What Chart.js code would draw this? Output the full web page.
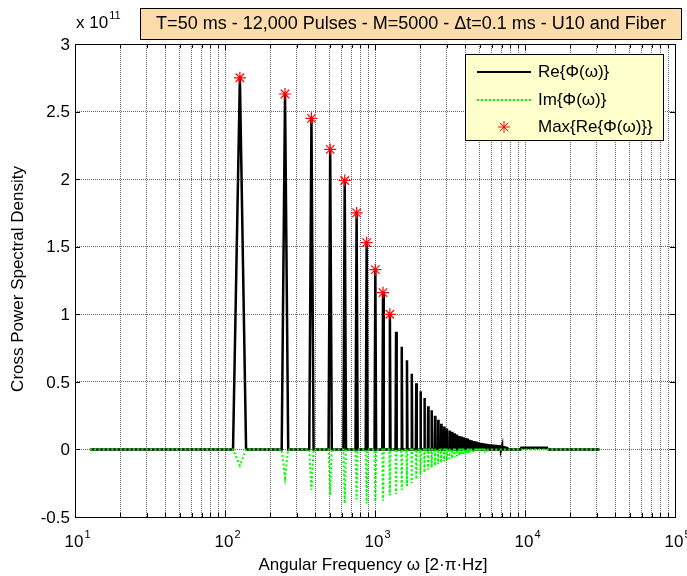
<!DOCTYPE html>
<html>
<head>
<meta charset="utf-8">
<script src="https://cdn.jsdelivr.net/npm/chart.js@4.4.0/dist/chart.umd.min.js"></script>
<style>
  html, body { margin: 0; padding: 0; background: #fff; }
  #wrap { width: 687px; height: 576px; }
</style>
</head>
<body>
<div id="wrap"><canvas id="chart" width="687" height="576"></canvas></div>
<script>
// frequency grid (rad/s)
const omega0 = 125.66;     // 2*pi/T
const dOmega = 12.566;     // resolution 2*pi/(M*dt)
const omegaStart = 12.566;
const omegaEnd = 31416;    // pi/dt

// Re{Phi} peak at each harmonic n = 1, 2, 3 ... (units of 1e11)
const rePeaks = [2.75, 2.63, 2.45, 2.22, 1.99, 1.75, 1.53, 1.33, 1.16, 1.00,
  0.87, 0.76, 0.66, 0.56, 0.49, 0.43, 0.38, 0.32, 0.29, 0.25,
  0.22, 0.19, 0.17, 0.155, 0.14, 0.13, 0.12, 0.11, 0.10, 0.095,
  0.09, 0.085, 0.08, 0.072, 0.067, 0.063, 0.06, 0.056, 0.053, 0.05,
  0.048, 0.046, 0.044, 0.042, 0.04, 0.039, 0.038, 0.037, 0.036, 0.035,
  0.034, 0.033, 0.032, 0.031, 0.03, 0.028, 0.026, 0.024, 0.022, 0.02,
  0.015, 0.01, 0.005];

// Im{Phi} value at each harmonic
const imPeaks = [-0.12, -0.21, -0.30, -0.34, -0.40, -0.37, -0.40, -0.385, -0.38, -0.34,
  -0.33, -0.30, -0.27, -0.25, -0.22, -0.19, -0.17, -0.15, -0.135, -0.12,
  -0.11, -0.10, -0.09, -0.08, -0.07, -0.065, -0.06, -0.05, -0.045, -0.04,
  -0.035, -0.03, -0.027, -0.024, -0.02, -0.018, -0.015, -0.013, -0.011, -0.01,
  -0.008, -0.006, -0.005, -0.004, -0.003];

// small flat bump of Re near 1e4
const bumpFreq = [9300, 9450, 14000, 14250];
const bumpRe = [0, 0.013, 0.013, 0];

const numMarked = 10;  // stars on the first harmonics

const xGridVals = [];
[10, 100, 1000, 10000].forEach(d => { for (let k = 1; k < 10; k++) xGridVals.push(d * k); });
xGridVals.push(100000);
const xMajor = [10, 100, 1000, 10000, 100000];
const yTicks = [3, 2.5, 2, 1.5, 1, 0.5, 0, -0.5];

function buildSeries(peaks, extraX, extraY) {
  const pts = [{ x: omegaStart, y: 0 }];
  peaks.forEach((v, i) => {
    const w = (i + 1) * omega0;
    pts.push({ x: w - dOmega, y: 0 }, { x: w, y: v }, { x: w + dOmega, y: 0 });
  });
  if (extraX) extraX.forEach((x, i) => pts.push({ x: x, y: extraY[i] }));
  pts.push({ x: omegaEnd, y: 0 });
  return pts;
}

const reData = buildSeries(rePeaks, bumpFreq, bumpRe);
const imData = buildSeries(imPeaks);
const maxData = rePeaks.slice(0, numMarked).map((v, i) => ({ x: (i + 1) * omega0, y: v }));

const FONT = '"Liberation Sans", Arial, sans-serif';

function sup(ctx, base, exp, x, y, align) {
  ctx.font = '17px ' + FONT;
  const bw = ctx.measureText(base).width;
  let left = x;
  if (align === 'center') left = x - bw / 2 - 1;
  ctx.textAlign = 'left';
  ctx.textBaseline = 'alphabetic';
  ctx.font = '17px ' + FONT;
  ctx.fillText(base, left, y);
  ctx.font = '11px ' + FONT;
  ctx.fillText(exp, left + bw + 1, y - 9);
}

const decor = {
  id: 'decor',
  afterDraw(chart) {
    const ctx = chart.ctx;
    const a = chart.chartArea;
    const xs = chart.scales.x, ys = chart.scales.y;
    ctx.save();
    ctx.strokeStyle = '#000';
    ctx.lineWidth = 1;
    // box
    ctx.strokeRect(Math.round(a.left) + 0.5, Math.round(a.top) + 0.5,
      Math.round(a.right - a.left), Math.round(a.bottom - a.top));
    // inner ticks
    ctx.beginPath();
    xGridVals.forEach(v => {
      const px = Math.round(xs.getPixelForValue(v)) + 0.5;
      const len = xMajor.includes(v) ? 6 : 4;
      ctx.moveTo(px, a.bottom); ctx.lineTo(px, a.bottom - len);
      ctx.moveTo(px, a.top); ctx.lineTo(px, a.top + len);
    });
    yTicks.forEach(v => {
      const py = Math.round(ys.getPixelForValue(v)) + 0.5;
      ctx.moveTo(a.left, py); ctx.lineTo(a.left + 5, py);
      ctx.moveTo(a.right, py); ctx.lineTo(a.right - 5, py);
    });
    ctx.stroke();

    ctx.fillStyle = '#000';
    // y tick labels
    ctx.font = '17px ' + FONT;
    ctx.textAlign = 'right';
    ctx.textBaseline = 'middle';
    yTicks.forEach(v => ctx.fillText(String(v), a.left - 5, ys.getPixelForValue(v) + 1));
    // x tick labels
    xMajor.forEach(v => {
      sup(ctx, '10', String(Math.round(Math.log10(v))), xs.getPixelForValue(v), a.bottom + 30, 'center');
    });
    // multiplier
    sup(ctx, 'x 10', '11', 76, 28, 'left');

    // axis titles
    ctx.font = '17px ' + FONT;
    ctx.textAlign = 'center';
    ctx.textBaseline = 'middle';
    ctx.fillText('Angular Frequency \u03c9 [2\u00b7\u03c0\u00b7Hz]', 373, 565);
    ctx.save();
    ctx.translate(18, 279);
    ctx.rotate(-Math.PI / 2);
    ctx.fillText('Cross Power Spectral Density', 0, 0);
    ctx.restore();

    // title box
    ctx.fillStyle = '#fcdcab';
    ctx.fillRect(140, 8, 541, 31);
    ctx.strokeRect(140.5, 8.5, 541, 31);
    ctx.fillStyle = '#000';
    ctx.font = '18px ' + FONT;
    ctx.fillText('T=50 ms - 12,000 Pulses - M=5000 - \u0394t=0.1 ms - U10 and Fiber', 411, 24);

    // legend
    ctx.fillStyle = '#ffffcc';
    ctx.fillRect(465, 54, 198, 86);
    ctx.strokeRect(465.5, 54.5, 198, 86);
    ctx.lineWidth = 2;
    ctx.strokeStyle = '#000';
    ctx.beginPath(); ctx.moveTo(477, 72); ctx.lineTo(531, 72); ctx.stroke();
    ctx.strokeStyle = '#00ff00';
    ctx.setLineDash([2, 2]);
    ctx.beginPath(); ctx.moveTo(477, 100); ctx.lineTo(531, 100); ctx.stroke();
    ctx.setLineDash([]);
    ctx.strokeStyle = '#ff0000';
    ctx.lineWidth = 1;
    ctx.beginPath();
    const sx = 504, sy = 127, r = 6, d = r * 0.7071;
    ctx.moveTo(sx - r, sy); ctx.lineTo(sx + r, sy);
    ctx.moveTo(sx, sy - r); ctx.lineTo(sx, sy + r);
    ctx.moveTo(sx - d, sy - d); ctx.lineTo(sx + d, sy + d);
    ctx.moveTo(sx - d, sy + d); ctx.lineTo(sx + d, sy - d);
    ctx.stroke();
    ctx.fillStyle = '#000';
    ctx.font = '17px ' + FONT;
    ctx.textAlign = 'left';
    ctx.fillText('Re{\u03a6(\u03c9)}', 538, 72);
    ctx.fillText('Im{\u03a6(\u03c9)}', 538, 100);
    ctx.fillText('Max{Re{\u03a6(\u03c9)}}', 538, 127);
    ctx.restore();
  }
};

const gridOpts = { color: 'rgba(0,0,0,0.6)', lineWidth: 1, drawTicks: false };

new Chart(document.getElementById('chart'), {
  type: 'line',
  data: {
    datasets: [
      { label: 'Max{Re}', data: maxData, showLine: false, pointStyle: 'star', pointRadius: 6,
        borderColor: '#ff0000', backgroundColor: '#ff0000', borderWidth: 1.2, order: 0 },
      { label: 'Im', data: imData, borderColor: '#00ff00', borderWidth: 2, borderDash: [2, 2.3],
        pointRadius: 0, fill: false, tension: 0, order: 1 },
      { label: 'Re', data: reData, borderColor: '#000000', borderWidth: 2.5,
        pointRadius: 0, fill: false, tension: 0, order: 2 }
    ]
  },
  options: {
    responsive: false,
    animation: false,
    layout: { padding: { left: 75, right: 12, top: 44, bottom: 59 } },
    plugins: { legend: { display: false }, tooltip: { enabled: false } },
    scales: {
      x: {
        type: 'logarithmic', min: 10, max: 100000,
        ticks: { display: false },
        grid: gridOpts,
        border: { display: false, dash: [1, 1] },
        afterBuildTicks: s => { s.ticks = xGridVals.map(v => ({ value: v })); }
      },
      y: {
        type: 'linear', min: -0.5, max: 3,
        ticks: { display: false, stepSize: 0.5 },
        grid: gridOpts,
        border: { display: false, dash: [1, 1] }
      }
    }
  },
  plugins: [decor]
});
</script>
</body>
</html>
